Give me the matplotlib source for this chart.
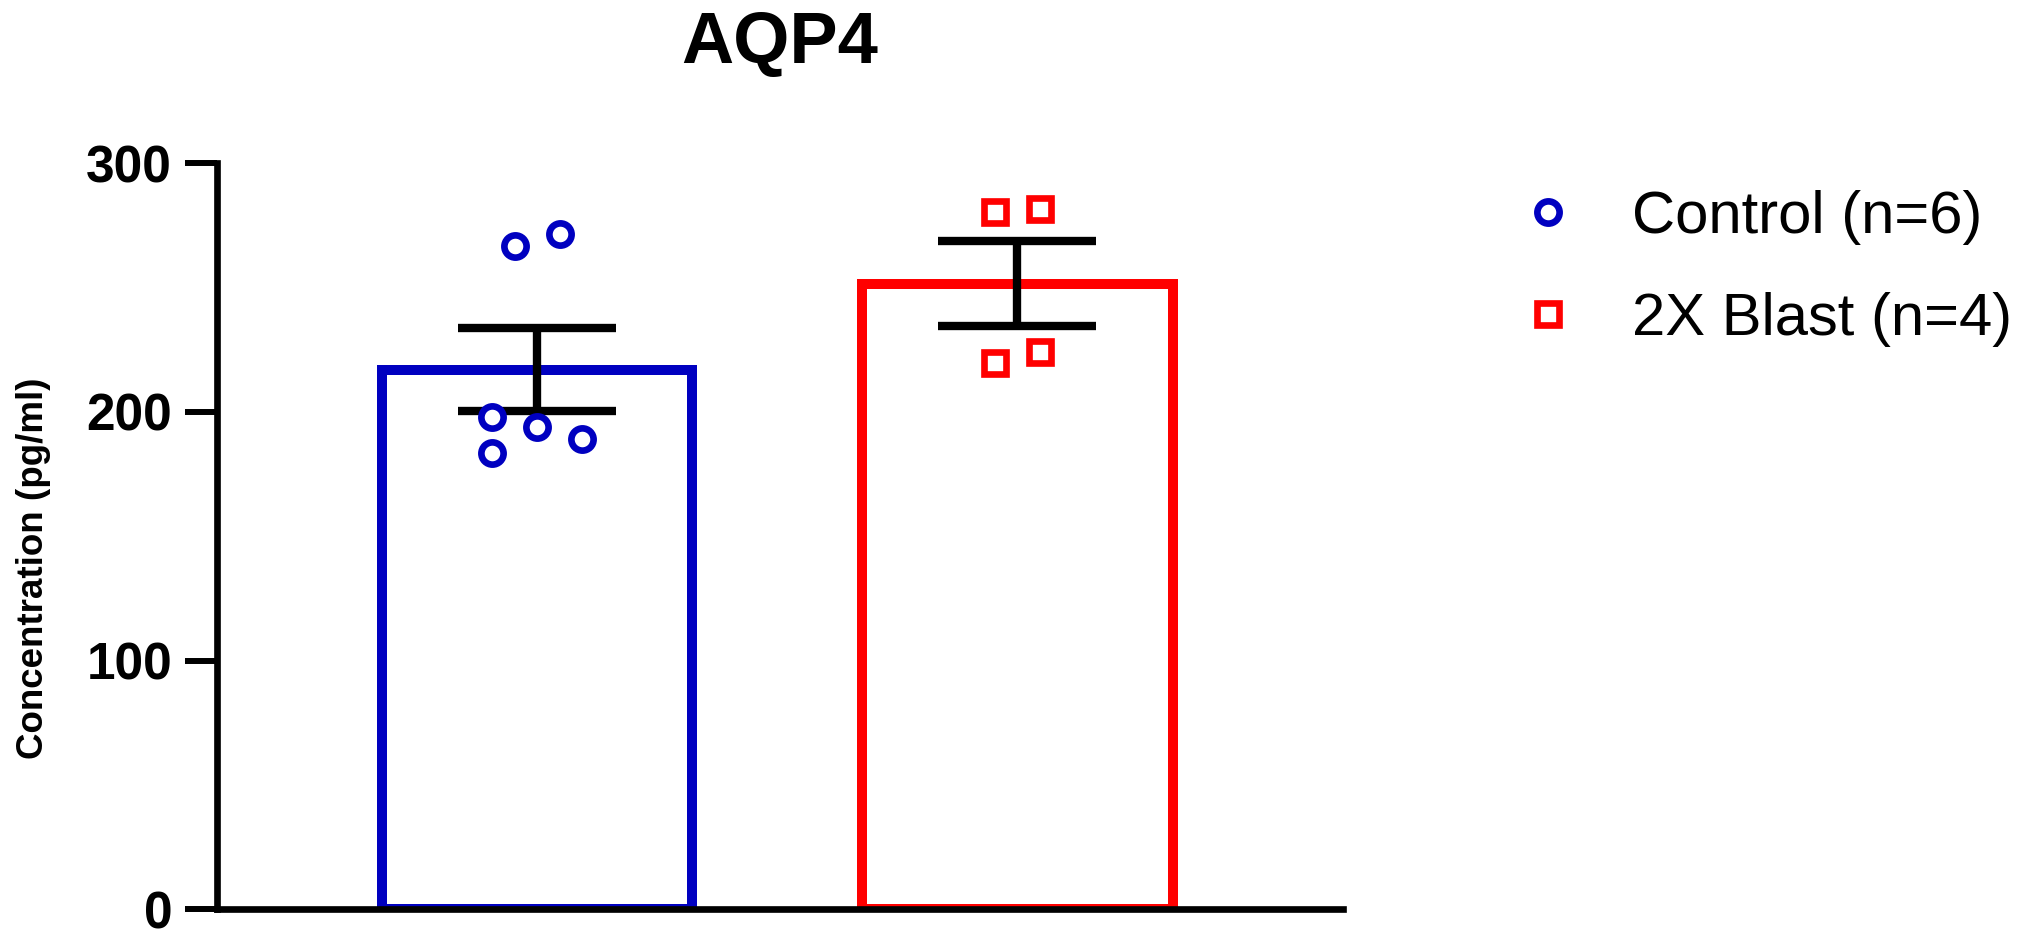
import numpy as np
import matplotlib
matplotlib.use("Agg")
import matplotlib.pyplot as plt

plt.rcParams['font.family'] = ['Liberation Sans', 'DejaVu Sans']

# values (pg/ml)
groups = ["Control (n=6)", "2X Blast (n=4)"]
control_vals = [197.8, 183.6, 266.8, 193.8, 271.5, 189.0]
blast_vals = [219.8, 280.5, 224.2, 281.5]
y_ticks = [0, 100, 200, 300]

colors = ["#0000C0", "#FF0000"]
markers = ["o", "s"]
# horizontal scatter of the individual points
jitter = [
    [-0.094, -0.094, -0.047, 0.0, 0.047, 0.094],
    [-0.047, -0.047, 0.047, 0.047],
]

data = [control_vals, blast_vals]
means = [np.mean(v) for v in data]
sems = [np.std(v, ddof=1) / np.sqrt(len(v)) for v in data]
xpos = np.arange(len(groups))

fig = plt.figure(figsize=(20.36, 9.5), dpi=100)
ax = fig.add_axes([0.1064, 0.0428, 0.5532, 0.7853])

ax.bar(xpos, means, width=0.646, color="white", edgecolor=colors,
       linewidth=7.2, zorder=1)
ax.errorbar(xpos, means, yerr=sems, fmt="none", ecolor="black",
            elinewidth=6, capsize=57, capthick=6, zorder=3)

handles = []
for i, vals in enumerate(data):
    h, = ax.plot(xpos[i] + np.array(jitter[i]), vals, linestyle="none",
                 marker=markers[i], markersize=16, markeredgewidth=4.8,
                 markerfacecolor="white", markeredgecolor=colors[i],
                 label=groups[i], zorder=4)
    handles.append(h)

ax.set_xlim(-0.668, 1.678)
ax.set_ylim(0, 300)
ax.set_yticks(y_ticks)
ax.set_xticks([])
for lab in ax.get_yticklabels():
    lab.set_fontweight("bold")
ax.tick_params(axis="y", length=23, width=4.3, pad=9, labelsize=37)
ax.spines["top"].set_visible(False)
ax.spines["right"].set_visible(False)
ax.spines["left"].set_linewidth(4.8)
ax.spines["bottom"].set_linewidth(4.8)

ax.set_title("AQP4", fontsize=52, fontweight="bold", pad=72)
ax.set_ylabel("Concentration (pg/ml)", fontsize=26.5, fontweight="bold")
ax.yaxis.set_label_coords(-0.147, 0.4575)

fig.legend(handles=handles, loc="upper left", bbox_to_anchor=(0.7456, 0.800),
           bbox_transform=fig.transFigure, frameon=False, fontsize=43,
           handlelength=1.0, handletextpad=0.9, labelspacing=0.78,
           borderpad=0, borderaxespad=0, numpoints=1)

fig.savefig("out.png", dpi=100)
